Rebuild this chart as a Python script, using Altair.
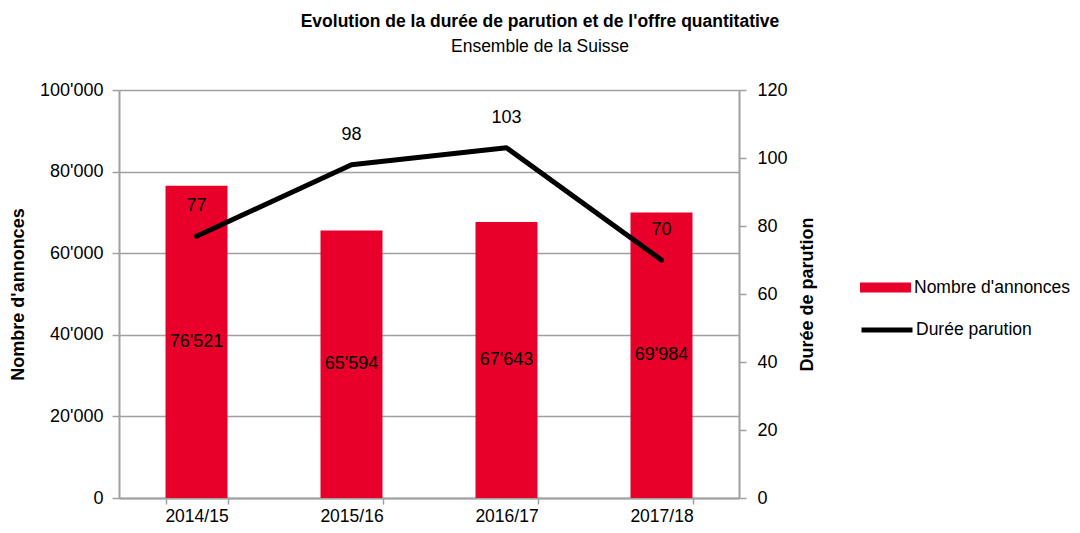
import altair as alt
import pandas as pd

years = ["2014/15", "2015/16", "2016/17", "2017/18"]
annonces = [76521, 65594, 67643, 69984]
duree = [77, 98, 103, 70]

left_ticks = [0, 20000, 40000, 60000, 80000, 100000]
right_ticks = [0, 20, 40, 60, 80, 100, 120]

df = pd.DataFrame({"year": years, "n": annonces, "d": duree})

FONT = "Liberation Sans"
RED = "#E8002A"
GRAY = "#A0A0A0"
FS = 18

x = alt.X(
    "year:N", sort=years, title=None,
    scale=alt.Scale(paddingInner=0.6, paddingOuter=0.3),
    axis=alt.Axis(labelAngle=0, tickBand="extent", tickSize=6, labelPadding=3,
                  labelFontSize=17.5,
                  domainColor=GRAY, tickColor=GRAY, domainWidth=2, tickWidth=1.5),
)

left_axis = alt.Axis(values=left_ticks, title="Nombre d'annonces", grid=True,
                     gridColor=GRAY, gridWidth=1.5, tickSize=7, labelPadding=9,
                     titlePadding=12,
                     labelExpr="replace(format(datum.value, ','), ',', \"'\")")
right_axis = alt.Axis(orient="right", values=right_ticks, title="Durée de parution",
                      grid=False, tickSize=7, labelPadding=11, titlePadding=29,
                      titleAngle=270)

bars = alt.Chart(df).mark_bar(color=RED).encode(
    x=x,
    y=alt.Y("n:Q", scale=alt.Scale(domain=[0, 100000]), axis=left_axis),
    color=alt.Color("serie:N",
                    scale=alt.Scale(domain=["Nombre d'annonces"], range=[RED]),
                    legend=alt.Legend(orient="none", legendX=741, legendY=172, title=None,
                                      symbolType="M-1,-0.196H1V0.196H-1Z", symbolSize=2601,
                                      symbolStrokeWidth=0, labelFont=FONT, labelFontSize=17.5,
                                      labelOffset=3, labelLimit=400, labelColor="black")),
).transform_calculate(serie="\"Nombre d'annonces\"")

bar_text = alt.Chart(df).mark_text(font=FONT, fontSize=FS, color="black", baseline="middle").encode(
    x=alt.X("year:N", sort=years),
    y=alt.Y("mid:Q", scale=alt.Scale(domain=[0, 100000]), axis=left_axis),
    text="lbl:N",
).transform_calculate(
    mid="datum.n / 2",
    lbl="replace(format(datum.n, ','), ',', \"'\")",
)

line = alt.Chart(df).mark_line(strokeWidth=5, strokeCap="round", strokeJoin="round").encode(
    x=alt.X("year:N", sort=years),
    y=alt.Y("d:Q", scale=alt.Scale(domain=[0, 120]), axis=right_axis),
    stroke=alt.Stroke("serie:N",
                      scale=alt.Scale(domain=["Durée parution"], range=["black"]),
                      legend=alt.Legend(orient="none", legendX=740, legendY=212, title=None,
                                        symbolType="stroke", symbolSize=2601,
                                        symbolStrokeWidth=5, labelFont=FONT, labelFontSize=17.5,
                                        labelOffset=1, labelLimit=400, labelColor="black")),
).transform_calculate(serie="'Durée parution'")

line_text = alt.Chart(df).mark_text(font=FONT, fontSize=FS, color="black", dy=-30,
                                    baseline="middle").encode(
    x=alt.X("year:N", sort=years),
    y=alt.Y("d:Q", scale=alt.Scale(domain=[0, 120]), axis=right_axis),
    text="d:Q",
)

left = alt.layer(bars, bar_text)
right = alt.layer(line, line_text)

chart = alt.layer(left, right).resolve_scale(y="independent").properties(
    width=620,
    height=408,
    autosize="none",
    padding={"left": 111, "top": 82, "right": 332, "bottom": 27},
    title=alt.TitleParams(
        text="Evolution de la durée de parution et de l'offre quantitative",
        subtitle="Ensemble de la Suisse",
        font=FONT, fontSize=17.5, fontWeight="bold", color="black",
        subtitleFont=FONT, subtitleFontSize=17.5, subtitleColor="black",
        anchor="middle", dx=111, offset=26, subtitlePadding=7,
    ),
).configure_view(stroke=None).configure_axis(
    labelFont=FONT, labelFontSize=FS, labelColor="black",
    titleFont=FONT, titleFontSize=FS, titleFontWeight="bold", titleColor="black",
    domainColor=GRAY, tickColor=GRAY, domainWidth=2, tickWidth=1.5,
)

chart.save("out.html", embed_options={"renderer": "svg", "actions": False})
